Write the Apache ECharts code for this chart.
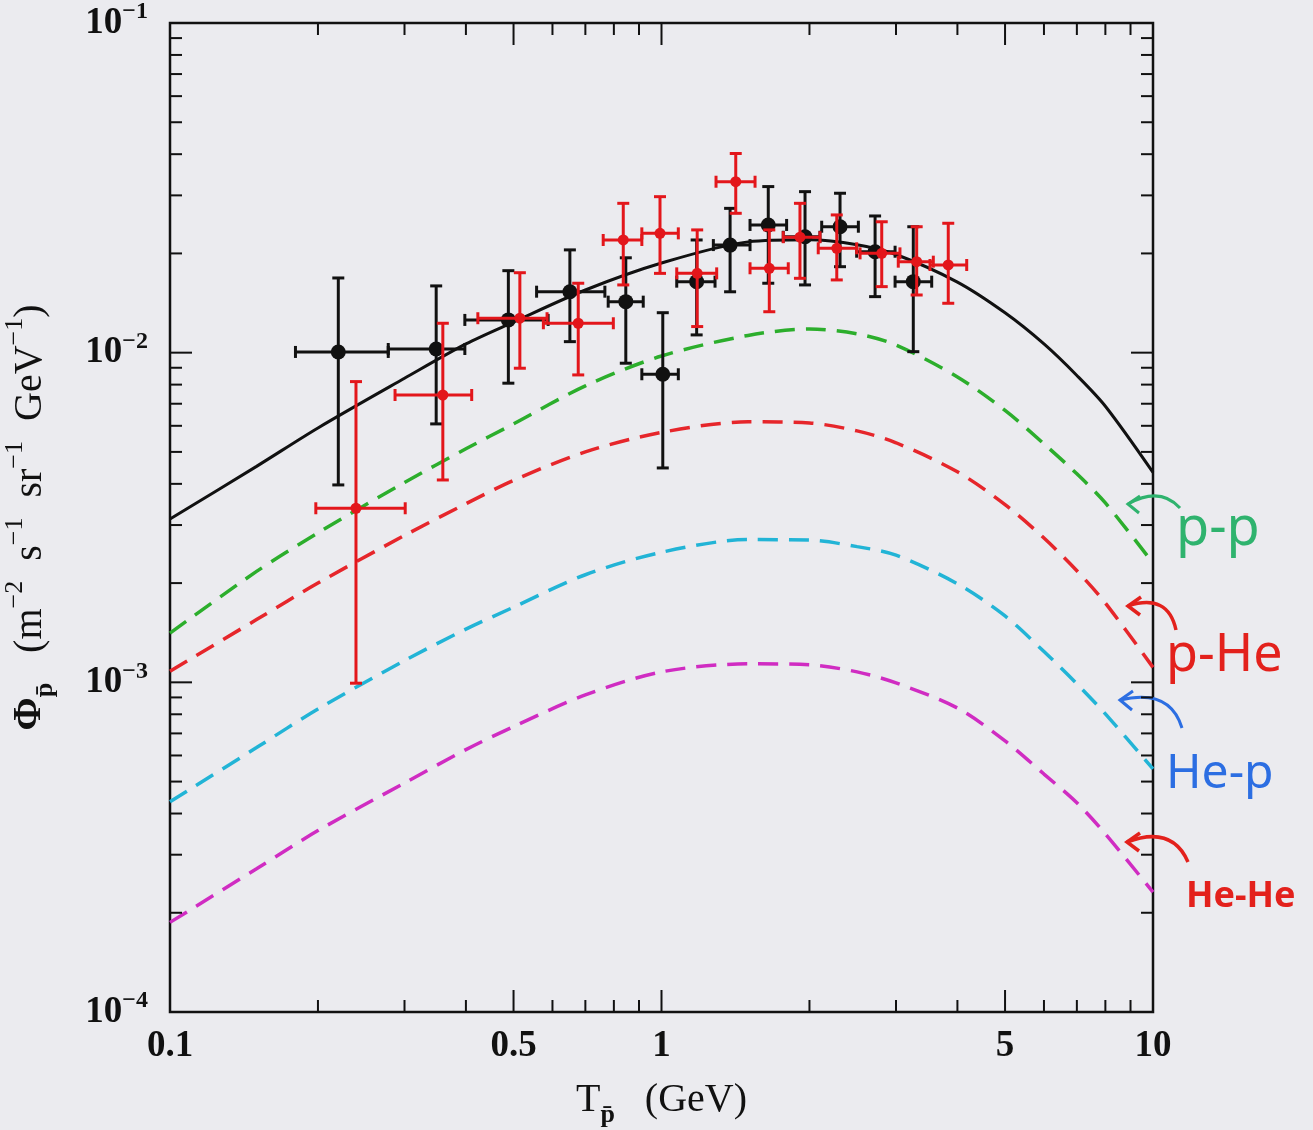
<!DOCTYPE html>
<html>
<head>
<meta charset="utf-8">
<script src="https://cdn.jsdelivr.net/npm/echarts@6/dist/echarts.min.js"></script>
<style>
  html, body { margin: 0; padding: 0; background: #ebebef; }
  #chart { width: 1313px; height: 1130px; }
</style>
</head>
<body>
<div id="chart"></div>
<script>
// model curves, sampled in antiproton kinetic energy (GeV)
const modelEnergy = [0.1, 0.15, 0.2, 0.3, 0.4, 0.5, 0.7, 1, 1.5, 2, 2.5, 3, 4, 5, 6, 7, 8, 10]
const totalFlux = [0.00313, 0.00452, 0.00591, 0.00836, 0.01063, 0.01239, 0.01549, 0.0187, 0.02168, 0.0220, 0.02126, 0.01985, 0.01637, 0.01321, 0.01063, 0.00853, 0.00688, 0.004335]
const ppFlux = [0.00141, 0.00217, 0.00284, 0.00404, 0.00511, 0.00608, 0.00793, 0.00977, 0.01128, 0.0118, 0.0114, 0.01055, 0.00844, 0.00668, 0.00529, 0.00429, 0.0035, 0.0023]
const pHeFlux = [0.00108, 0.00155, 0.0020, 0.00279, 0.00348, 0.0041, 0.0050, 0.00573, 0.00617, 0.00612, 0.00579, 0.00533, 0.00435, 0.00346, 0.00274, 0.00218, 0.00174, 0.00111]
const HepFlux = [0.000434, 0.000634, 0.00083, 0.001164, 0.00145, 0.00169, 0.00212, 0.00248, 0.00271, 0.0027, 0.00258, 0.00243, 0.00199, 0.00159, 0.00124, 0.00099, 0.000802, 0.000546]
const HeHeFlux = [0.000187, 0.000272, 0.000355, 0.000495, 0.000625, 0.000734, 0.000916, 0.001076, 0.001138, 0.00113, 0.001076, 0.000996, 0.000836, 0.000664, 0.000527, 0.000431, 0.000347, 0.000231]

// black data points
const blackX = [0.220, 0.348, 0.488, 0.651, 0.846, 1.006, 1.179, 1.379, 1.649, 1.959, 2.308, 2.72, 3.253]
const blackXLo = [0.180, 0.278, 0.398, 0.557, 0.779, 0.912, 1.074, 1.275, 1.514, 1.769, 2.118, 2.495, 2.987]
const blackXHi = [0.278, 0.398, 0.588, 0.767, 0.918, 1.082, 1.285, 1.514, 1.797, 2.101, 2.515, 2.987, 3.546]
const blackY = [0.01005, 0.01026, 0.01257, 0.01531, 0.01428, 0.0086, 0.01642, 0.0212, 0.0244, 0.02247, 0.0241, 0.02024, 0.01642]
const blackYLo = [0.00397, 0.00608, 0.00808, 0.0108, 0.00929, 0.00447, 0.01132, 0.0153, 0.01624, 0.01605, 0.01823, 0.01479, 0.01007]
const blackYHi = [0.01685, 0.01594, 0.01773, 0.0205, 0.0194, 0.01322, 0.02197, 0.0274, 0.0319, 0.03079, 0.03045, 0.02598, 0.0241]

// red data points
const redX = [0.239, 0.359, 0.515, 0.677, 0.836, 0.993, 1.182, 1.416, 1.657, 1.913, 2.273, 2.806, 3.305, 3.832]
const redXLo = [0.198, 0.287, 0.423, 0.575, 0.761, 0.912, 1.074, 1.291, 1.514, 1.769, 2.084, 2.535, 3.032, 3.518]
const redXHi = [0.301, 0.411, 0.585, 0.798, 0.912, 1.082, 1.295, 1.55, 1.811, 2.101, 2.495, 3.056, 3.573, 4.178]
const redY = [0.003373, 0.00744, 0.01272, 0.01228, 0.02197, 0.02301, 0.0174, 0.033, 0.01803, 0.0224, 0.02073, 0.02001, 0.01888, 0.01845]
const redYLo = [0.000994, 0.00411, 0.00897, 0.00856, 0.01605, 0.0174, 0.012, 0.02647, 0.01331, 0.01681, 0.01662, 0.01586, 0.01496, 0.01412]
const redYHi = [0.00817, 0.01228, 0.01748, 0.01624, 0.02838, 0.02973, 0.02357, 0.0402, 0.02357, 0.02838, 0.02617, 0.02495, 0.0241, 0.02469]

// extra tick labels on the energy axis
const xExtraLabels = [0.5, 5]

const X_MIN = 0.1, X_MAX = 10, Y_MIN = 1e-4, Y_MAX = 1e-1
const serif = '"Liberation Serif", "DejaVu Serif", serif'
const hand = '"Noto Sans", "DejaVu Sans", sans-serif'

const pairs = (ys) => modelEnergy.map((x, i) => [x, ys[i]])

const points = (xs, xlo, xhi, ys, ylo, yhi) =>
  xs.map((x, i) => [x, ys[i], xlo[i], xhi[i], ylo[i], yhi[i]])

function errorBarItem(color, dot) {
  return function (params, api) {
    const c = api.coord([api.value(0), api.value(1)])
    const xl = api.coord([api.value(2), api.value(1)])[0]
    const xh = api.coord([api.value(3), api.value(1)])[0]
    const yl = api.coord([api.value(0), api.value(4)])[1]
    const yh = api.coord([api.value(0), api.value(5)])[1]
    const style = { stroke: color, lineWidth: 3 }
    const cap = 6
    const seg = (x1, y1, x2, y2) => ({ type: 'line', shape: { x1, y1, x2, y2 }, style })
    return {
      type: 'group',
      children: [
        seg(xl, c[1], xh, c[1]),
        seg(c[0], yl, c[0], yh),
        seg(xl, c[1] - cap, xl, c[1] + cap),
        seg(xh, c[1] - cap, xh, c[1] + cap),
        seg(c[0] - cap, yl, c[0] + cap, yl),
        seg(c[0] - cap, yh, c[0] + cap, yh),
        { type: 'circle', shape: { cx: c[0], cy: c[1], r: dot }, style: { fill: color } }
      ]
    }
  }
}

// tick marks on all four sides, pointing inward
const tickItems = []
for (let d = -1; d <= 0; d++) {
  for (let m = 2; m <= 9; m++) {
    tickItems.push([m * Math.pow(10, d), Y_MIN, 0, m === 5 ? 22 : 12])
  }
}
tickItems.push([1, Y_MIN, 0, 22])
for (let d = -4; d <= -2; d++) {
  for (let m = 1; m <= 9; m++) {
    if (m === 1 && d === -4) continue
    tickItems.push([X_MIN, m * Math.pow(10, d), 1, m === 1 ? 22 : 12])
  }
}

function tickItem(params, api) {
  const v0 = api.value(0), v1 = api.value(1), len = api.value(3)
  const style = { stroke: '#111', lineWidth: 2 }
  if (api.value(2) === 0) {
    const b = api.coord([v0, Y_MIN]), t = api.coord([v0, Y_MAX])
    return {
      type: 'group', children: [
        { type: 'line', shape: { x1: b[0], y1: b[1], x2: b[0], y2: b[1] - len }, style },
        { type: 'line', shape: { x1: t[0], y1: t[1], x2: t[0], y2: t[1] + len }, style }
      ]
    }
  }
  const l = api.coord([X_MIN, v1]), r = api.coord([X_MAX, v1])
  return {
    type: 'group', children: [
      { type: 'line', shape: { x1: l[0], y1: l[1], x2: l[0] + len, y2: l[1] }, style },
      { type: 'line', shape: { x1: r[0], y1: r[1], x2: r[0] - len, y2: r[1] }, style }
    ]
  }
}

function extraLabelItem(params, api) {
  const p = api.coord([api.value(0), Y_MIN])
  return {
    type: 'text',
    style: {
      text: String(api.value(0)), x: p[0], y: p[1] + 16,
      align: 'center', verticalAlign: 'top',
      font: 'bold 37px ' + serif, fill: '#111'
    }
  }
}

const dashed = (name, data, color) => ({
  name, type: 'line', data: pairs(data), smooth: 0.3, symbol: 'none',
  lineStyle: { color, width: 3.5, type: [20, 11] }, z: 3
})

const chart = echarts.init(document.getElementById('chart'))

const option = {
  animation: false,
  backgroundColor: '#ebebef',
  grid: {
    left: 170, top: 23, width: 983, height: 989,
    outerBoundsMode: 'none', containLabel: false,
    show: true, borderColor: '#111', borderWidth: 2.5, backgroundColor: 'transparent'
  },
  xAxis: {
    type: 'log', logBase: 10, min: X_MIN, max: X_MAX,
    axisLine: { show: false }, axisTick: { show: false }, splitLine: { show: false },
    axisLabel: {
      margin: 16, color: '#111', fontFamily: serif, fontWeight: 'bold', fontSize: 37,
      formatter: v => String(+(+v).toPrecision(3))
    },
    name: '{t|T}{sub|p\u0304}{t|   (GeV)}',
    nameLocation: 'middle', nameGap: 60,
    nameTextStyle: {
      rich: {
        t: { fontFamily: serif, fontSize: 40, lineHeight: 56, color: '#111' },
        sub: { fontFamily: serif, fontSize: 26, lineHeight: 26, verticalAlign: 'bottom', color: '#111', fontWeight: 'bold' }
      }
    }
  },
  yAxis: {
    type: 'log', logBase: 10, min: Y_MIN, max: Y_MAX,
    axisLine: { show: false }, axisTick: { show: false }, splitLine: { show: false },
    axisLabel: {
      margin: 22,
      formatter: v => '{b|10}{s|\u2212' + Math.round(-Math.log10(v)) + '}',
      rich: {
        b: { fontFamily: serif, fontWeight: 'bold', fontSize: 37, lineHeight: 46, color: '#111' },
        s: { fontFamily: serif, fontWeight: 'bold', fontSize: 24, lineHeight: 24, verticalAlign: 'top', color: '#111' }
      }
    },
    name: '{f|\u03a6}{sub|p\u0304}{t|   (m}{sup|\u22122}{t|  s}{sup|\u22121}{t|  sr}{sup|\u22121}{t|  GeV}{sup|\u22121}{t|)}',
    nameLocation: 'middle', nameGap: 112, nameRotate: 90,
    nameTextStyle: {
      rich: {
        f: { fontFamily: serif, fontWeight: 'bold', fontSize: 40, lineHeight: 56, color: '#111' },
        t: { fontFamily: serif, fontSize: 40, lineHeight: 56, color: '#111' },
        sup: { fontFamily: serif, fontSize: 26, lineHeight: 26, verticalAlign: 'top', color: '#111' },
        sub: { fontFamily: serif, fontWeight: 'bold', fontSize: 26, lineHeight: 26, verticalAlign: 'bottom', color: '#111' }
      }
    }
  },
  series: [
    {
      name: 'total', type: 'line', data: pairs(totalFlux), smooth: 0.3, symbol: 'none',
      lineStyle: { color: '#111', width: 3 }, z: 4
    },
    dashed('p-p', ppFlux, '#2cae2c'),
    dashed('p-He', pHeFlux, '#e6262b'),
    dashed('He-p', HepFlux, '#22b4d6'),
    dashed('He-He', HeHeFlux, '#d02cc2'),
    {
      name: 'data black', type: 'custom', clip: false, z: 6,
      data: points(blackX, blackXLo, blackXHi, blackY, blackYLo, blackYHi),
      renderItem: errorBarItem('#111', 7.5)
    },
    {
      name: 'data red', type: 'custom', clip: false, z: 7,
      data: points(redX, redXLo, redXHi, redY, redYLo, redYHi),
      renderItem: errorBarItem('#e3161b', 5.5)
    },
    {
      name: 'ticks', type: 'custom', clip: false, z: 8, silent: true,
      data: tickItems, renderItem: tickItem
    },
    {
      name: 'extra labels', type: 'custom', clip: false, z: 8, silent: true,
      data: xExtraLabels.map(v => [v, Y_MIN]), renderItem: extraLabelItem
    }
  ],
  graphic: [
    { type: 'text', style: { text: 'p-p', x: 1176, y: 530, font: '54px ' + hand, fill: '#2fb36e', verticalAlign: 'middle' } },
    { type: 'bezierCurve', shape: { x1: 1180, y1: 508, cpx1: 1160, cpy1: 486, x2: 1128, y2: 504 }, style: { stroke: '#2fb36e', lineWidth: 3, fill: null } },
    { type: 'polyline', shape: { points: [[1140, 496], [1128, 504], [1139, 513]] }, style: { stroke: '#2fb36e', lineWidth: 3, fill: null } },

    { type: 'text', style: { text: 'p-He', x: 1166, y: 656, font: '52px ' + hand, fill: '#e3211c', verticalAlign: 'middle' } },
    { type: 'bezierCurve', shape: { x1: 1176, y1: 630, cpx1: 1168, cpy1: 593, x2: 1128, y2: 606 }, style: { stroke: '#e3211c', lineWidth: 3.5, fill: null } },
    { type: 'polyline', shape: { points: [[1141, 597], [1128, 606], [1140, 615]] }, style: { stroke: '#e3211c', lineWidth: 3.5, fill: null } },

    { type: 'text', style: { text: 'He-p', x: 1166, y: 774, font: '48px ' + hand, fill: '#2c6ee2', verticalAlign: 'middle' } },
    { type: 'bezierCurve', shape: { x1: 1182, y1: 728, cpx1: 1170, cpy1: 688, x2: 1120, y2: 700 }, style: { stroke: '#2c6ee2', lineWidth: 3, fill: null } },
    { type: 'polyline', shape: { points: [[1133, 691], [1120, 700], [1132, 710]] }, style: { stroke: '#2c6ee2', lineWidth: 3, fill: null } },

    { type: 'text', style: { text: 'He-He', x: 1186, y: 897, font: 'bold 36px ' + hand, fill: '#e3211c', verticalAlign: 'middle' } },
    { type: 'bezierCurve', shape: { x1: 1188, y1: 862, cpx1: 1172, cpy1: 825, x2: 1127, y2: 842 }, style: { stroke: '#e3211c', lineWidth: 3.5, fill: null } },
    { type: 'polyline', shape: { points: [[1140, 833], [1127, 842], [1139, 851]] }, style: { stroke: '#e3211c', lineWidth: 3.5, fill: null } }
  ]
}

chart.setOption(option)
</script>
</body>
</html>
